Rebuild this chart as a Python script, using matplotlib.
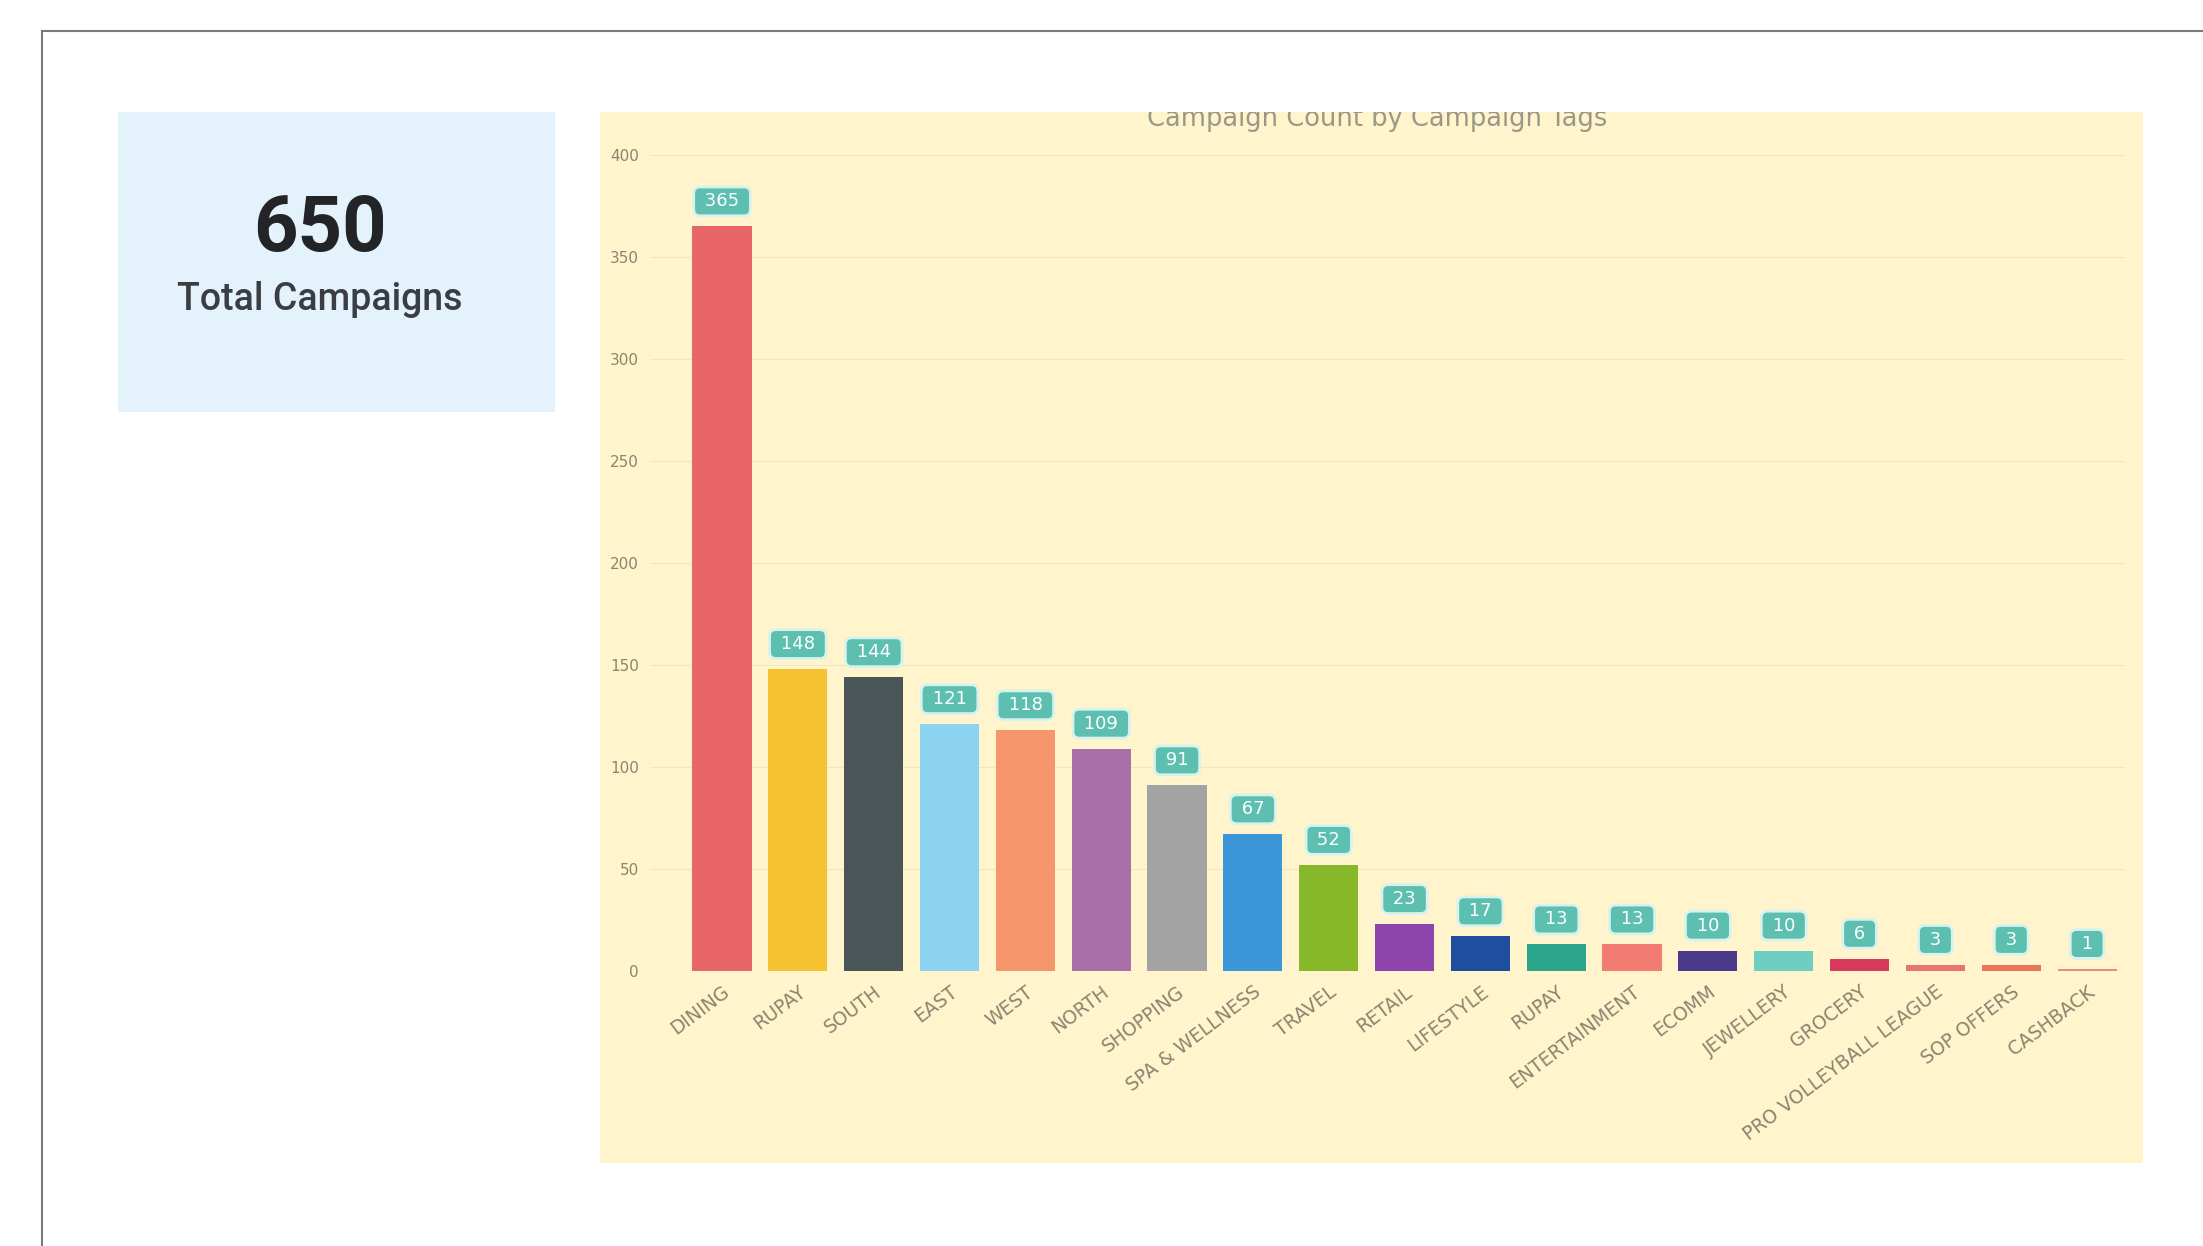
import matplotlib
matplotlib.use("Agg")
import matplotlib.pyplot as plt
from matplotlib.patches import Rectangle
from matplotlib.lines import Line2D
import numpy as np

categories = ["DINING", "RUPAY", "SOUTH", "EAST", "WEST", "NORTH", "SHOPPING",
              "SPA & WELLNESS", "TRAVEL", "RETAIL", "LIFESTYLE", "RUPAY",
              "ENTERTAINMENT", "ECOMM", "JEWELLERY", "GROCERY",
              "PRO VOLLEYBALL LEAGUE", "SOP OFFERS", "CASHBACK"]
counts = [365, 148, 144, 121, 118, 109, 91, 67, 52, 23, 17, 13, 13, 10, 10, 6, 3, 3, 1]
bar_colors = ["#E8656A", "#F5C332", "#4A5558", "#8BD3F0", "#F5956C", "#A86FA8",
              "#A3A3A3", "#3A96D8", "#86B82A", "#8E44AD", "#1F4E9E", "#2BA58C",
              "#F27C72", "#4B3A8C", "#6ECFC0", "#D83A5E", "#E8766A", "#E8765A",
              "#E89070"]
yticks = [0, 50, 100, 150, 200, 250, 300, 350, 400]
total_campaigns = 650
kpi_label = "Total Campaigns"
title = "Campaign Count by Campaign Tags"

W, H = 2203, 1246
fig = plt.figure(figsize=(W / 100, H / 100), dpi=100)
fig.patch.set_facecolor("white")

def fx(px):
    return px / W

def fy(py):
    return 1 - py / H

# outer border lines
fig.add_artist(Line2D([fx(42), fx(42)], [fy(31), 0], transform=fig.transFigure,
                      color="#7a7a7a", lw=1.5))
fig.add_artist(Line2D([fx(42), 1], [fy(31), fy(31)], transform=fig.transFigure,
                      color="#7a7a7a", lw=1.5))

# KPI card
card = Rectangle((fx(118), fy(412)), fx(555) - fx(118), fy(112) - fy(412),
                 transform=fig.transFigure, facecolor="#E3F2FB", edgecolor="none",
                 zorder=-2)
fig.add_artist(card)
fig.text(fx(320), fy(230), f"{total_campaigns}", ha="center", va="center",
         fontsize=56, fontweight="bold", family=["Roboto", "DejaVu Sans"], color="#222428")
fig.text(fx(320), fy(300), kpi_label, ha="center", va="center",
         fontsize=27, fontweight="medium", family=["Roboto", "DejaVu Sans"], color="#3a3d42")

# chart panel
panel = Rectangle((fx(600), fy(1163)), fx(2143) - fx(600), fy(112) - fy(1163),
                  transform=fig.transFigure, facecolor="#FFF4CC", edgecolor="none",
                  zorder=-2)
fig.add_artist(panel)
t = fig.text(fx(1377), fy(119), title, ha="center", va="center", fontsize=18.5,
             color="#9a9886", family=["DejaVu Sans"])
t.set_clip_path(panel)

ax = fig.add_axes([fx(650), fy(971), fx(2125) - fx(650), fy(155) - fy(971)])
ax.set_facecolor("none")
x = np.arange(len(categories))
ax.bar(x, counts, width=0.78, color=bar_colors, zorder=3)
ax.set_xlim(-0.95, len(categories) - 0.5)
ax.set_ylim(0, 400)
ax.set_yticks(yticks)
ax.set_yticklabels([str(v) for v in yticks], fontsize=11, color="#8a8570")
ax.set_xticks(x)
ax.set_xticklabels(categories, rotation=37, ha="right", rotation_mode="anchor",
                   fontsize=13.5, color="#8a8570")
ax.tick_params(axis="x", length=0, pad=8)
ax.tick_params(axis="y", length=0, pad=8)
for s in ax.spines.values():
    s.set_visible(False)
ax.yaxis.grid(True, color="#F3E6BC", lw=0.8, zorder=0)

for xi, v in zip(x, counts):
    ax.annotate(f" {v} ", (xi, v), xytext=(0, 18), textcoords="offset points",
                ha="center", va="center", fontsize=13, color="white",
                bbox=dict(boxstyle="round,pad=0.3,rounding_size=0.35",
                          facecolor="#5DBFB0", edgecolor="#D8F3EC", lw=2),
                zorder=5)

fig.savefig("out.png", dpi=100, facecolor="white")
